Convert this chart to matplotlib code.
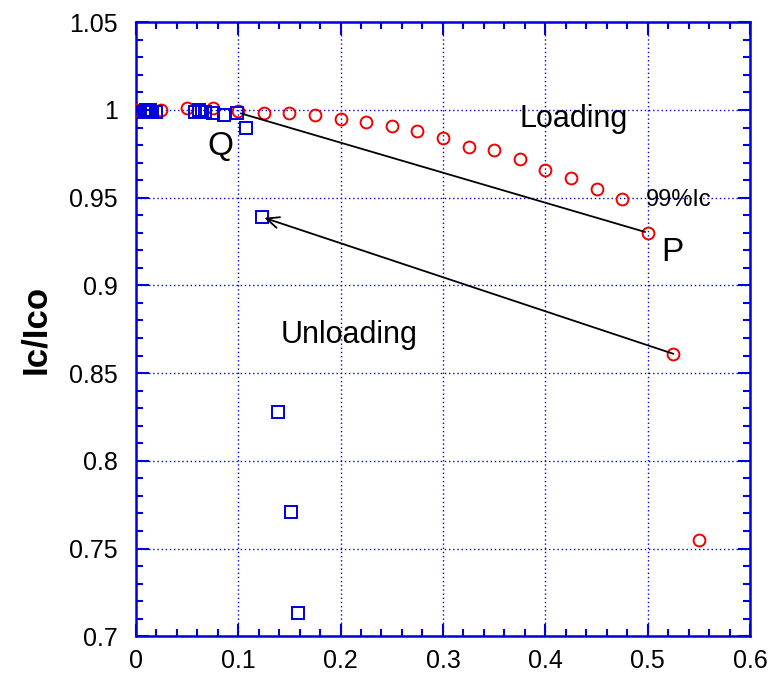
import matplotlib
matplotlib.use("Agg")
import matplotlib.pyplot as plt
from matplotlib.ticker import MultipleLocator

plt.rcParams['font.family'] = ['Liberation Sans', 'DejaVu Sans']

# Loading (red circles)
load_x = [0.0, 0.025, 0.05, 0.075, 0.1, 0.125, 0.15, 0.175, 0.2, 0.225, 0.25, 0.275,
          0.3, 0.325, 0.35, 0.375, 0.4, 0.425, 0.45, 0.475, 0.5, 0.525, 0.55]
load_y = [1.0, 1.0, 1.001, 1.001, 0.9995, 0.998, 0.998, 0.997, 0.995, 0.993, 0.991, 0.988,
          0.984, 0.979, 0.977, 0.972, 0.966, 0.961, 0.955, 0.949, 0.930, 0.861, 0.755]

# Unloading (blue squares)
unload_x = [0.008, 0.010, 0.012, 0.014, 0.016, 0.020, 0.058, 0.062, 0.065, 0.068, 0.075,
            0.086, 0.099, 0.108, 0.123, 0.139, 0.152, 0.158]
unload_y = [0.999, 1.0, 0.999, 1.0, 0.999, 0.999, 0.999, 1.0, 0.999, 0.999, 0.998,
            0.997, 0.998, 0.990, 0.939, 0.828, 0.771, 0.713]

x_ticks = [0, 0.1, 0.2, 0.3, 0.4, 0.5, 0.6]
x_labels = ['0', '0.1', '0.2', '0.3', '0.4', '0.5', '0.6']
y_ticks = [0.7, 0.75, 0.8, 0.85, 0.9, 0.95, 1.0, 1.05]
y_labels = ['0.7', '0.75', '0.8', '0.85', '0.9', '0.95', '1', '1.05']

blue = '#0000dd'
fig = plt.figure(figsize=(7.71, 6.74), dpi=100)
ax = fig.add_axes([0.176, 0.056, 0.797, 0.911])

ax.plot(load_x, load_y, 'o', mfc='none', mec='#ee0000', ms=8.5, mew=1.4, zorder=3)
ax.plot(unload_x, unload_y, 's', mfc='none', mec=blue, ms=8.5, mew=1.4, zorder=3)

# Arrow lines
ax.annotate('', xy=(0.5, 0.930), xytext=(0.1, 0.9985),
            arrowprops=dict(arrowstyle='-', color='black', lw=1.3))
ax.annotate('', xy=(0.123, 0.939), xytext=(0.525, 0.861),
            arrowprops=dict(arrowstyle='->,head_length=0.9,head_width=0.4', color='black', lw=1.3,
                            shrinkA=0, shrinkB=2))

ax.text(0.375, 0.995, 'Loading', fontsize=22, va='center', ha='left')
ax.text(0.083, 0.979, 'Q', fontsize=24, va='center', ha='center')
ax.text(0.513, 0.919, 'P', fontsize=24, va='center', ha='left')
ax.text(0.498, 0.9485, '99%Ic', fontsize=17, va='center', ha='left')
ax.text(0.142, 0.8715, 'Unloading', fontsize=22, va='center', ha='left')

ax.set_xlim(0, 0.6)
ax.set_ylim(0.7, 1.05)
ax.set_xticks(x_ticks)
ax.set_xticklabels(x_labels)
ax.set_yticks(y_ticks)
ax.set_yticklabels(y_labels)
ax.xaxis.set_minor_locator(MultipleLocator(0.02))
ax.yaxis.set_minor_locator(MultipleLocator(0.01))

ax.grid(True, which='major', color=blue, linestyle=(0, (1, 2)), linewidth=1.0)
for s in ax.spines.values():
    s.set_color(blue)
    s.set_linewidth(1.8)
ax.tick_params(which='both', direction='in', top=True, right=True, colors=blue,
               labelcolor='black', labelsize=18, width=1.5)
ax.tick_params(which='major', length=9)
ax.tick_params(axis='y', which='major', pad=13)
ax.tick_params(axis='x', which='major', pad=9)
ax.tick_params(which='minor', length=5)
ax.set_ylabel('Ic/Ico', fontsize=25, fontweight='bold', labelpad=12)

fig.savefig('out.png', dpi=100)
